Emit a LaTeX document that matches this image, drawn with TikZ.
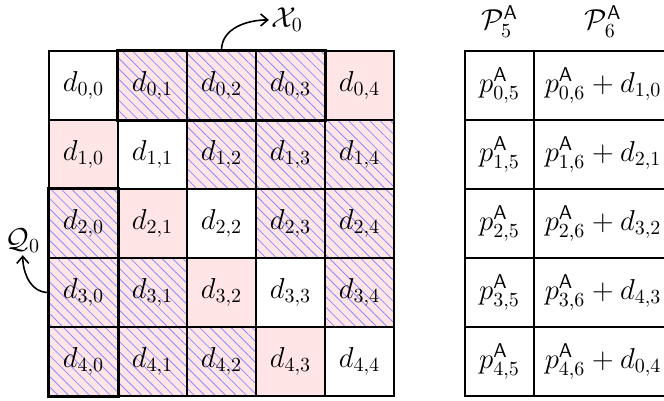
\documentclass[tikz,border=0pt]{standalone}
\usepackage{amsmath,amssymb}
\usetikzlibrary{patterns.meta,arrows.meta}

\begin{document}
\begin{tikzpicture}[x=34.5pt, y=34.5pt,
	cell/.style={draw, line width=0.7pt, minimum size=34.5pt, inner sep=0pt, font=\Large},
	pk/.style={cell, fill=red!10},
	ht/.style={cell, preaction={fill=red!10},
		pattern={Lines[angle=-45, distance=3.7pt, line width=0.4pt]}, pattern color=blue!45},
	wide/.style={cell, minimum width=69pt},
	frame/.style={draw, line width=1.5pt},
	lbl/.style={font=\Large, inner sep=1pt},
	arr/.style={-{Straight Barb[length=3.5pt, width=6pt]}, line width=0.8pt}
]
	\useasboundingbox (-1.21,-4.558) rectangle (8.413,1.239);

	% Row 0
	\node[cell] (d00) at (0,0) {$d_{0,0}$};
	\node[ht]   (d01) at (1,0) {$d_{0,1}$};
	\node[ht]   (d02) at (2,0) {$d_{0,2}$};
	\node[ht]   (d03) at (3,0) {$d_{0,3}$};
	\node[pk]   (d04) at (4,0) {$d_{0,4}$};

	% Row 1
	\node[pk]   (d10) at (0,-1) {$d_{1,0}$};
	\node[cell] (d11) at (1,-1) {$d_{1,1}$};
	\node[ht]   (d12) at (2,-1) {$d_{1,2}$};
	\node[ht]   (d13) at (3,-1) {$d_{1,3}$};
	\node[ht]   (d14) at (4,-1) {$d_{1,4}$};

	% Row 2
	\node[ht]   (d20) at (0,-2) {$d_{2,0}$};
	\node[pk]   (d21) at (1,-2) {$d_{2,1}$};
	\node[cell] (d22) at (2,-2) {$d_{2,2}$};
	\node[ht]   (d23) at (3,-2) {$d_{2,3}$};
	\node[ht]   (d24) at (4,-2) {$d_{2,4}$};

	% Row 3
	\node[ht]   (d30) at (0,-3) {$d_{3,0}$};
	\node[ht]   (d31) at (1,-3) {$d_{3,1}$};
	\node[pk]   (d32) at (2,-3) {$d_{3,2}$};
	\node[cell] (d33) at (3,-3) {$d_{3,3}$};
	\node[ht]   (d34) at (4,-3) {$d_{3,4}$};

	% Row 4
	\node[ht]   (d40) at (0,-4) {$d_{4,0}$};
	\node[ht]   (d41) at (1,-4) {$d_{4,1}$};
	\node[ht]   (d42) at (2,-4) {$d_{4,2}$};
	\node[pk]   (d43) at (3,-4) {$d_{4,3}$};
	\node[cell] (d44) at (4,-4) {$d_{4,4}$};

	% Highlighted blocks
	\draw[frame] (d01.north west) rectangle (d03.south east);
	\draw[frame] (d20.north west) rectangle (d40.south east);

	% Block labels
	\node[lbl] (X0) at (2.95,0.95) {$\mathcal{X}_0$};
	\node[lbl] (Q0) at (-0.88,-2.25) {$\mathcal{Q}_0$};
	\draw[arr] (d02.north) to[out=90, in=180] (X0.west);
	\draw[arr] (d30.west) to[out=180, in=-90] (Q0.south);

	% Partial sums
	\node[lbl] (P5) at (6.03,0.93) {$\mathcal{P}^{\mathsf{A}}_5$};
	\node[lbl] (P6) at (7.53,0.93) {$\mathcal{P}^{\mathsf{A}}_6$};

	\node[cell] (p05) at (6.03,0)  {$p^{\mathsf{A}}_{0,5}$};
	\node[cell] (p15) at (6.03,-1) {$p^{\mathsf{A}}_{1,5}$};
	\node[cell] (p25) at (6.03,-2) {$p^{\mathsf{A}}_{2,5}$};
	\node[cell] (p35) at (6.03,-3) {$p^{\mathsf{A}}_{3,5}$};
	\node[cell] (p45) at (6.03,-4) {$p^{\mathsf{A}}_{4,5}$};

	\node[wide] (p06) at (7.53,0)  {$p^{\mathsf{A}}_{0,6}+d_{1,0}$};
	\node[wide] (p16) at (7.53,-1) {$p^{\mathsf{A}}_{1,6}+d_{2,1}$};
	\node[wide] (p26) at (7.53,-2) {$p^{\mathsf{A}}_{2,6}+d_{3,2}$};
	\node[wide] (p36) at (7.53,-3) {$p^{\mathsf{A}}_{3,6}+d_{4,3}$};
	\node[wide] (p46) at (7.53,-4) {$p^{\mathsf{A}}_{4,6}+d_{0,4}$};
\end{tikzpicture}
\end{document}
